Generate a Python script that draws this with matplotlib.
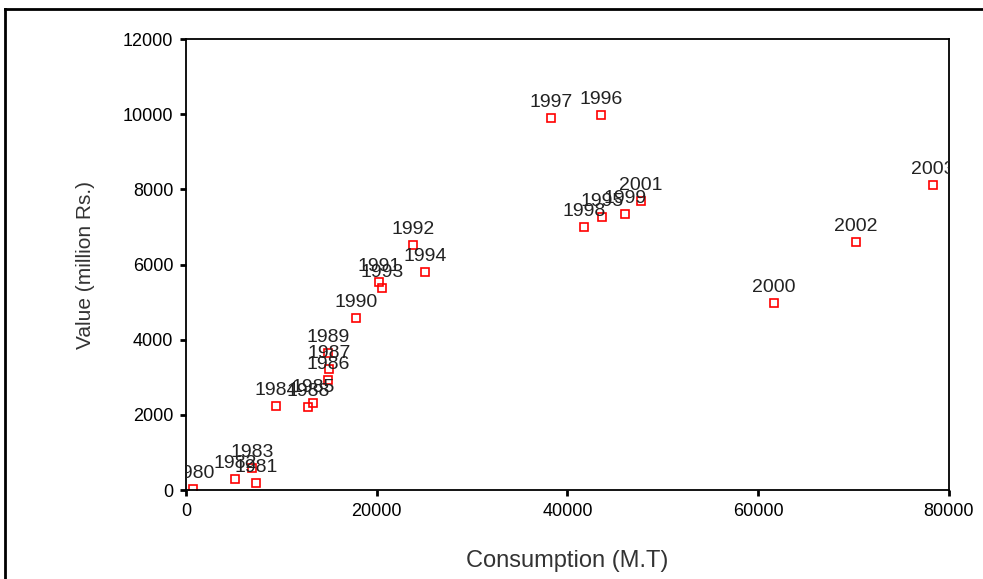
import matplotlib
matplotlib.use('Agg')
import matplotlib.pyplot as plt
from matplotlib.lines import Line2D

plt.rcParams['font.family'] = ['Liberation Sans', 'DejaVu Sans']

# Consumption (M.T) vs value (million Rs.), by year
years = ['1980', '1981', '1982', '1983', '1984', '1985', '1986', '1987', '1988',
         '1989', '1990', '1991', '1992', '1993', '1994', '1995', '1996', '1997',
         '1998', '1999', '2000', '2001', '2002', '2003']
consumption = [730, 7340, 5140, 6920, 9440, 13320, 14890, 15000, 12790,
               14890, 17820, 20240, 23800, 20550, 25060, 43620, 43510, 38270,
               41730, 46030, 61650, 47700, 70250, 78320]
value = [30, 190, 290, 590, 2230, 2310, 2930, 3220, 2210,
         3640, 4570, 5530, 6520, 5370, 5800, 7260, 9970, 9890,
         6990, 7340, 4970, 7690, 6600, 8110]

fig = plt.figure(figsize=(9.83, 5.79), dpi=100)
ax = fig.add_axes([0.1892, 0.1537, 0.7762, 0.7789])

ax.plot(consumption, value, linestyle='none', marker='s', markersize=6,
        markerfacecolor='none', markeredgecolor='#ff0000', markeredgewidth=1.2)

for yr, cx, vy in zip(years, consumption, value):
    ax.annotate(yr, (cx, vy), xytext=(0, 5), textcoords='offset points',
                ha='center', va='bottom', fontsize=14, color='#222222',
                clip_on=True)

ax.set_xlim(0, 80000)
ax.set_ylim(0, 12000)
ax.set_xticks([0, 20000, 40000, 60000, 80000])
ax.set_yticks([0, 2000, 4000, 6000, 8000, 10000, 12000])
ax.tick_params(direction='out', length=4, width=2, labelsize=13, pad=5)
for s in ax.spines.values():
    s.set_linewidth(1.3)

ax.set_xlabel('Consumption (M.T)', fontsize=17, color='#333333', labelpad=22)
ax.set_ylabel('Value (million Rs.)', fontsize=15, color='#333333', labelpad=20)

# outer frame lines (left and top)
fig.add_artist(Line2D([5/983, 5/983], [0, 1 - 9/579], transform=fig.transFigure,
                      color='black', linewidth=2))
fig.add_artist(Line2D([5/983, 1], [1 - 9/579, 1 - 9/579], transform=fig.transFigure,
                      color='black', linewidth=2))

fig.savefig('out.png', dpi=100)
